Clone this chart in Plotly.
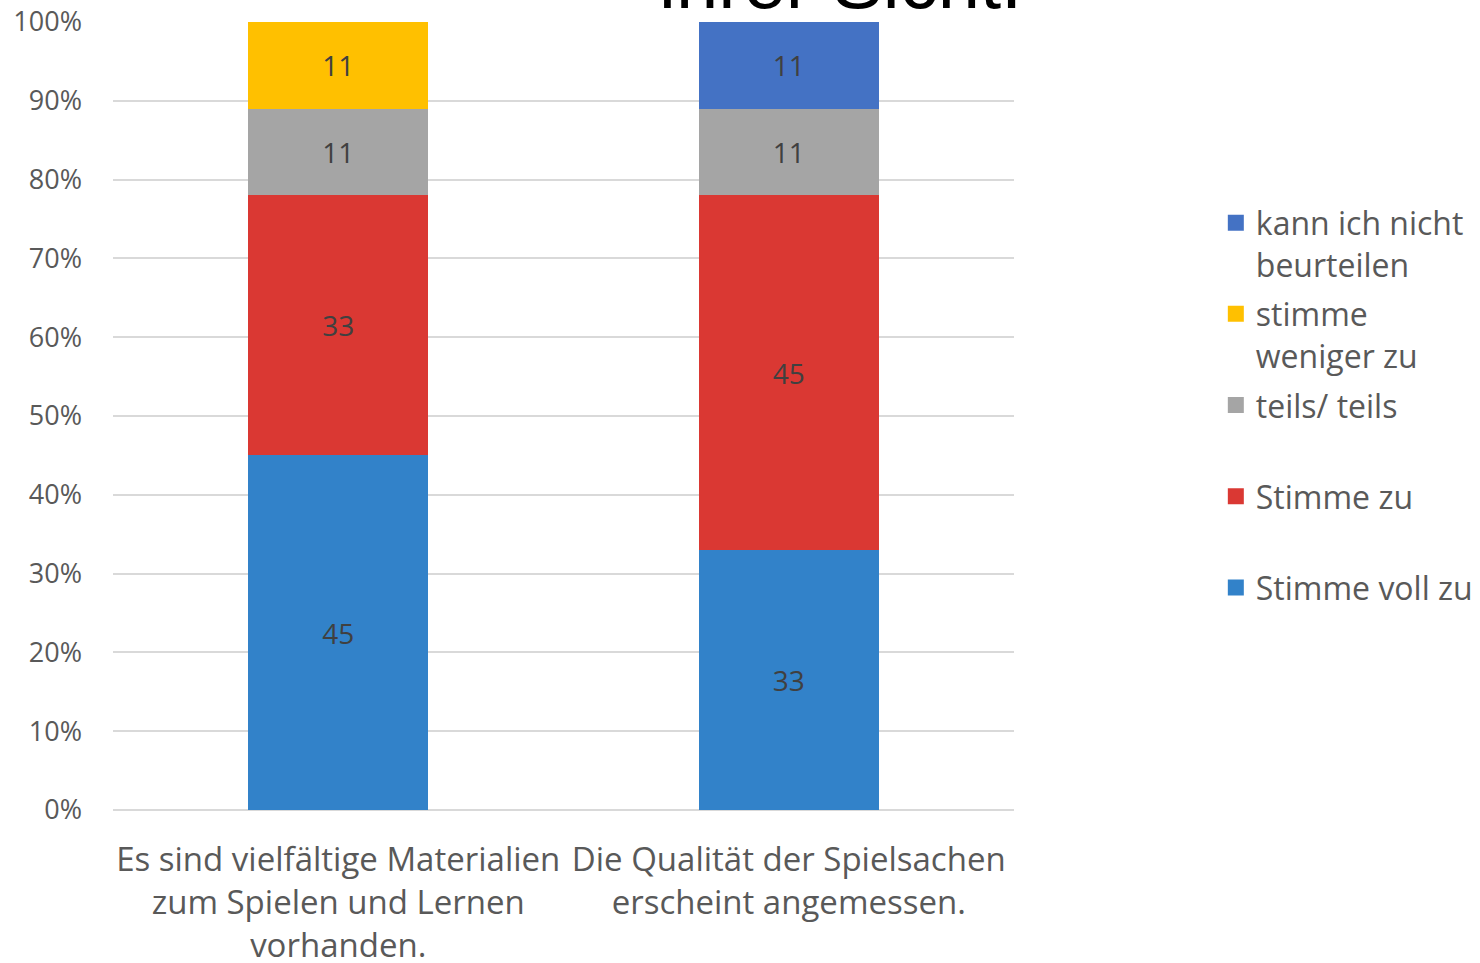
import plotly.graph_objects as go

categories = [
    "Es sind vielfältige Materialien<br>zum Spielen und Lernen<br>vorhanden.",
    "Die Qualität der Spielsachen<br>erscheint angemessen.",
]
series_names = [
    "Stimme voll zu",
    "Stimme zu",
    "teils/ teils",
    "stimme weniger zu",
    "kann ich nicht beurteilen",
]
legend_labels = [
    "Stimme voll zu",
    "Stimme zu<br> ",
    "teils/ teils<br> ",
    "stimme<br>weniger zu",
    "kann ich nicht<br>beurteilen",
]
stimme_voll_zu = [45, 33]
stimme_zu = [33, 45]
teils_teils = [11, 11]
stimme_weniger_zu = [11, 0]
kann_ich_nicht = [0, 11]
series_values = [stimme_voll_zu, stimme_zu, teils_teils, stimme_weniger_zu, kann_ich_nicht]
colors = ["#3282C9", "#DA3833", "#A5A5A5", "#FFC000", "#4472C4"]
y_ticks = [0, 10, 20, 30, 40, 50, 60, 70, 80, 90, 100]
y_tick_labels = [f"{v}%" for v in y_ticks]

FONT = "Open Sans"
fig = go.Figure()
for name, vals, col in zip(series_names, series_values, colors):
    fig.add_trace(go.Bar(
        x=categories, y=vals, name=name, marker=dict(color=col, line=dict(width=0)),
        text=[str(v) if v else "" for v in vals], textposition="inside",
        insidetextanchor="middle", textangle=0,
        textfont=dict(family=FONT, size=28, color="#404040"),
        hoverinfo="skip", showlegend=False,
    ))

# legend-only entries (larger square swatches), listed top to bottom as in the reference
for i in reversed(range(len(series_names))):
    fig.add_trace(go.Scatter(
        x=[None], y=[None], mode="markers", name=legend_labels[i], legendgroup=f"g{i}",
        marker=dict(symbol="square", size=16, color=colors[i], line=dict(width=0)),
        hoverinfo="skip", showlegend=True,
    ))

fig.update_layout(
    barmode="stack", bargap=0.6,
    width=1480, height=963,
    margin=dict(l=113, r=466, t=22, b=153, autoexpand=False),
    paper_bgcolor="white", plot_bgcolor="white",
    font=dict(family=FONT, color="#595959"),
    uniformtext=dict(mode="show", minsize=10),
    yaxis=dict(range=[0, 100], tickvals=y_ticks, ticktext=y_tick_labels,
               showgrid=True, gridcolor="#D9D9D9", gridwidth=2,
               zeroline=True, zerolinecolor="#D9D9D9", zerolinewidth=2,
               showline=False, ticks="", ticklabelstandoff=30,
               tickfont=dict(family=FONT, size=27, color="#595959")),
    xaxis=dict(showline=False, ticks="", ticklabelstandoff=27,
               tickfont=dict(family=FONT, size=33, color="#595959")),
    legend=dict(traceorder="grouped", x=1.224, xanchor="left", y=0.78, yanchor="top",
                valign="top", font=dict(family=FONT, size=32, color="#595959"),
                itemsizing="trace", itemwidth=30, tracegroupgap=5, bgcolor="rgba(0,0,0,0)"),
    showlegend=True,
    annotations=[dict(text="ihrer Sicht.", xref="paper", yref="paper",
                      x=(840 - 113) / 901, y=1.0, xanchor="center", yanchor="bottom",
                      yshift=-4, showarrow=False,
                      font=dict(family="Liberation Sans", size=76, color="#000000"))],
)
fig.write_html("out.html", config={"displayModeBar": False},
               post_script="document.body.style.margin='0';document.body.style.overflow='hidden';")
